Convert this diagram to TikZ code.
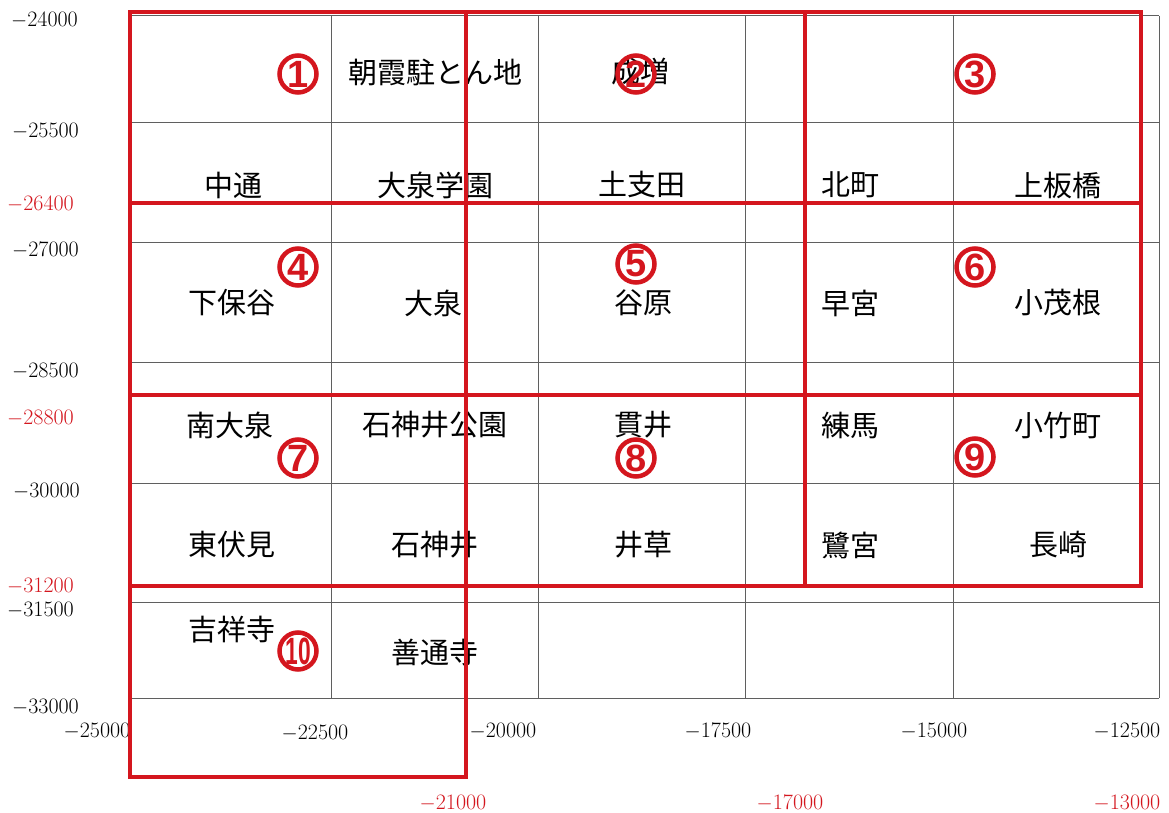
\documentclass[tikz,border=0pt]{standalone}
\usepackage{fontspec}
\newfontfamily\cjk{Noto Sans CJK JP}
\newfontfamily\numfont{Liberation Sans}
\definecolor{mred}{RGB}{212,22,30}
\definecolor{gridgray}{RGB}{95,95,95}
\tikzset{
  place/.style={font=\cjk\fontsize{29}{31}\selectfont, text=black, inner sep=0pt},
  num/.style={circle, draw=mred, line width=4.5pt, minimum size=37pt, inner sep=0pt,
    font=\numfont\bfseries\fontsize{38}{38}\selectfont, text=mred},
  ylab/.style={font=\fontsize{22}{24}\selectfont, anchor=west, inner sep=0pt},
  xlab/.style={font=\fontsize{22}{24}\selectfont, inner sep=0pt},
  redlab/.style={text=mred},
  area/.style={draw=mred, line width=4.5pt},
  gridline/.style={draw=gridgray, line width=1pt}
}
\begin{document}
\begin{tikzpicture}[x=1pt,y=-1pt]
\useasboundingbox (0,0) rectangle (1169,813);
\fill[white] (0,0) rectangle (1169,813);
% grid
\foreach \gx in {130,331,538,745,953,1159} \draw[gridline] (\gx,16) -- (\gx,698);
\foreach \gy in {16,123,242,362,483,602,698} \draw[gridline] (130,\gy) -- (1159,\gy);
% left axis labels
\node[ylab] (y24000) at (11,20) {$-$24000};
\node[ylab] (y25500) at (12,131) {$-$25500};
\node[ylab,redlab] (y26400) at (7,204) {$-$26400};
\node[ylab] (y27000) at (12,250) {$-$27000};
\node[ylab] (y28500) at (12,371) {$-$28500};
\node[ylab,redlab] (y28800) at (7,418) {$-$28800};
\node[ylab] (y30000) at (13,491) {$-$30000};
\node[ylab,redlab] (y31200) at (7,586) {$-$31200};
\node[ylab] (y31500) at (7,610) {$-$31500};
\node[ylab] (y33000) at (12,707) {$-$33000};
% bottom axis labels
\node[xlab] (x25000) at (97,731) {$-$25000};
\node[xlab] (x22500) at (315,733) {$-$22500};
\node[xlab] (x20000) at (503,731) {$-$20000};
\node[xlab] (x17500) at (718,731) {$-$17500};
\node[xlab] (x15000) at (934,731) {$-$15000};
\node[xlab] (x12500) at (1127,731) {$-$12500};
\node[xlab,redlab] (x21000) at (453,803) {$-$21000};
\node[xlab,redlab] (x17000) at (790,803) {$-$17000};
\node[xlab,redlab] (x13000) at (1127,803) {$-$13000};
% place names
\node[place] (asaka) at (435,72) {朝霞駐とん地};
\node[place] (narimasu) at (640,72) {成増};
\node[place] (nakadori) at (233,185) {中通};
\node[place] (oizumigakuen) at (435,185) {大泉学園};
\node[place] (doshida) at (642,185) {土支田};
\node[place] (kitamachi) at (850,185) {北町};
\node[place] (kamiitabashi) at (1058,185) {上板橋};
\node[place] (shimohoya) at (232,303) {下保谷};
\node[place] (oizumi) at (433,303) {大泉};
\node[place] (yahara) at (643,303) {谷原};
\node[place] (hayamiya) at (850,303) {早宮};
\node[place] (komone) at (1058,303) {小茂根};
\node[place] (minamioizumi) at (230,425) {南大泉};
\node[place] (shakujiikoen) at (435,425) {石神井公園};
\node[place] (nukui) at (643,425) {貫井};
\node[place] (nerima) at (850,425) {練馬};
\node[place] (kotakecho) at (1058,425) {小竹町};
\node[place] (higashifushimi) at (232,545) {東伏見};
\node[place] (shakujii) at (435,545) {石神井};
\node[place] (igusa) at (643,545) {井草};
\node[place] (saginomiya) at (850,545) {鷺宮};
\node[place] (nagasaki) at (1058,545) {長崎};
\node[place] (kichijoji) at (232,630) {吉祥寺};
\node[place] (zentsuji) at (435,652) {善通寺};
% red areas
\draw[area] (130,12) rectangle (466,203);
\draw[area] (466,12) rectangle (805,203);
\draw[area] (805,12) rectangle (1141,203);
\draw[area] (130,203) rectangle (466,395);
\draw[area] (466,203) rectangle (805,395);
\draw[area] (805,203) rectangle (1141,395);
\draw[area] (130,395) rectangle (466,586);
\draw[area] (466,395) rectangle (805,586);
\draw[area] (805,395) rectangle (1141,586);
\draw[area] (130,586) rectangle (466,777);
% circled numbers
\node[num] (n1) at (298,74) {1};
\node[num] (n2) at (636,74) {2};
\node[num] (n3) at (975,74) {3};
\node[num] (n4) at (298,267) {4};
\node[num] (n5) at (636,264) {5};
\node[num] (n6) at (975,267) {6};
\node[num] (n7) at (298,458) {7};
\node[num] (n8) at (636,458) {8};
\node[num] (n9) at (975,457) {9};
\node[num] (n10) at (298,651) {\scalebox{0.6}[1]{10}};
\end{tikzpicture}
\end{document}
